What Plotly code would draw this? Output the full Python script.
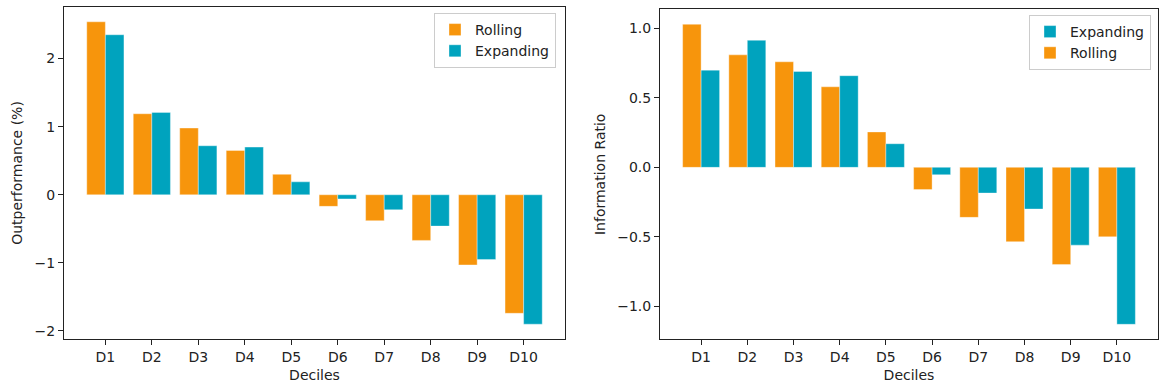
import plotly.graph_objects as go

deciles = ["D1", "D2", "D3", "D4", "D5", "D6", "D7", "D8", "D9", "D10"]
outperf_rolling = [2.54, 1.19, 0.98, 0.65, 0.30, -0.17, -0.38, -0.67, -1.03, -1.74]
outperf_expanding = [2.35, 1.21, 0.72, 0.70, 0.19, -0.06, -0.22, -0.46, -0.95, -1.90]
ir_rolling = [1.03, 0.81, 0.76, 0.58, 0.255, -0.16, -0.36, -0.535, -0.70, -0.50]
ir_expanding = [0.70, 0.915, 0.69, 0.66, 0.17, -0.053, -0.185, -0.30, -0.56, -1.13]

ORANGE = "#F7950C"
TEAL = "#00A3BE"
FONT = "DejaVu Sans"
FS = 14
W, H = 1161, 388
xs = list(range(len(deciles)))

fig = go.Figure()
edge = dict(color="rgba(255,255,255,0.6)", width=0.6)
fig.add_trace(go.Bar(x=xs, y=outperf_rolling, name="Rolling", marker=dict(color=ORANGE, line=edge),
                     xaxis="x", yaxis="y", legend="legend", offsetgroup="r"))
fig.add_trace(go.Bar(x=xs, y=outperf_expanding, name="Expanding", marker=dict(color=TEAL, line=edge),
                     xaxis="x", yaxis="y", legend="legend", offsetgroup="e"))
fig.add_trace(go.Bar(x=xs, y=ir_rolling, name="Rolling", marker=dict(color=ORANGE, line=edge),
                     xaxis="x2", yaxis="y2", legend="legend2", legendrank=2, offsetgroup="r"))
fig.add_trace(go.Bar(x=xs, y=ir_expanding, name="Expanding", marker=dict(color=TEAL, line=edge),
                     xaxis="x2", yaxis="y2", legend="legend2", legendrank=1, offsetgroup="e"))

axis_common = dict(showline=True, linecolor="#222222", linewidth=1, mirror=True,
                   ticks="outside", ticklen=5, tickcolor="#222222", tickwidth=1,
                   showgrid=False, zeroline=False, automargin=False,
                   tickfont=dict(family=FONT, size=FS, color="#222222"))

xl = (64 / W, 565 / W)
xr = (660 / W, 1158 / W)
yb = 1 - 339.3 / H
tfont = dict(family=FONT, size=FS, color="#222222")

fig.update_layout(
    width=W, height=H,
    margin=dict(l=0, r=0, t=0, b=0, autoexpand=False),
    paper_bgcolor="white", plot_bgcolor="white",
    barmode="group", bargap=0.2, bargroupgap=0,
    font=dict(family=FONT, size=FS, color="#222222"),
    xaxis=dict(domain=list(xl), anchor="y", range=[-0.89, 9.89], tickvals=xs, ticktext=deciles,
               title=dict(text="Deciles", font=tfont, standoff=6), **axis_common),
    yaxis=dict(domain=[yb, 1 - 6.7 / H], anchor="x", range=[-2.122, 2.762], tickvals=[-2, -1, 0, 1, 2],
               ticktext=["\u22122", "\u22121", "0", "1", "2"],
               title=dict(text="Outperformance (%)", font=tfont, standoff=8), **axis_common),
    xaxis2=dict(domain=list(xr), anchor="y2", range=[-0.89, 9.89], tickvals=xs, ticktext=deciles,
                title=dict(text="Deciles", font=tfont, standoff=6), **axis_common),
    yaxis2=dict(domain=[yb, 1 - 9.3 / H], anchor="x2", range=[-1.238, 1.138],
                tickvals=[-1.0, -0.5, 0.0, 0.5, 1.0],
                ticktext=["\u22121.0", "\u22120.5", "0.0", "0.5", "1.0"],
                title=dict(text="Information Ratio", font=tfont, standoff=8), **axis_common),
    legend=dict(x=556 / W, y=1 - 13 / H, xanchor="right", yanchor="top",
                bgcolor="rgba(255,255,255,0.8)", bordercolor="#cccccc", borderwidth=1,
                font=tfont, tracegroupgap=0, itemwidth=30),
    legend2=dict(x=1151 / W, y=1 - 15 / H, xanchor="right", yanchor="top",
                 bgcolor="rgba(255,255,255,0.8)", bordercolor="#cccccc", borderwidth=1,
                 font=tfont, tracegroupgap=0, itemwidth=30),
)

fig.write_html("out.html", config={"displayModeBar": False},
               post_script="document.body.style.margin='0';document.body.style.overflow='hidden';")
